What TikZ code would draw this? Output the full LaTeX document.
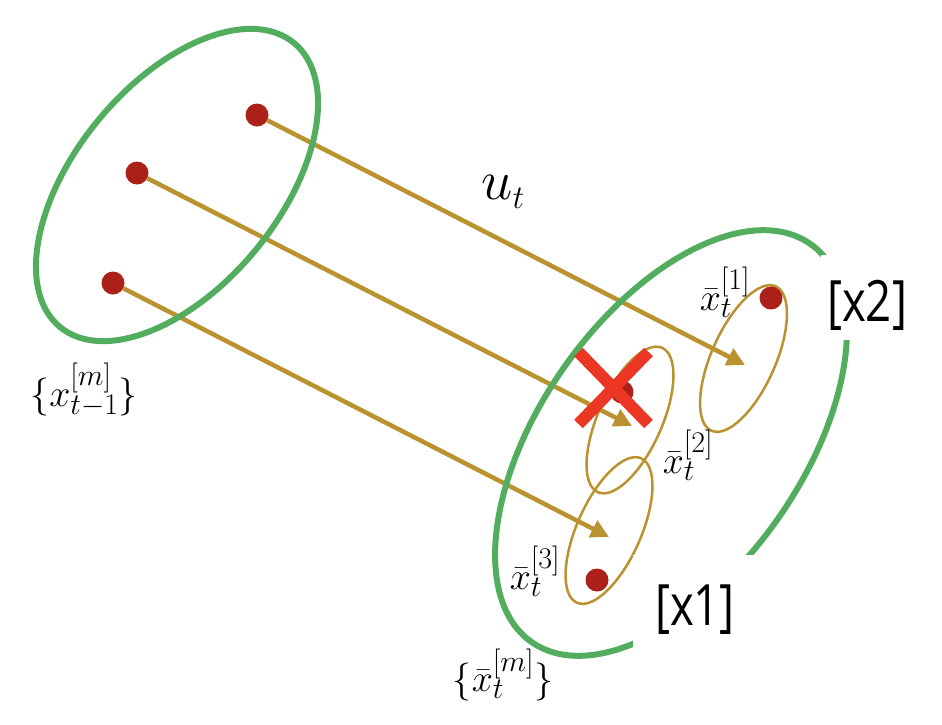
\RequirePackage{fix-cm}
\documentclass[tikz,border=0pt]{standalone}
\usepackage{fontspec}
\usepackage{graphicx}
\usepackage{tikz}
\usetikzlibrary{arrows.meta}
\newfontfamily\tagfont{Open Sans}
\DeclareMathSizes{38}{38}{30}{24}
\DeclareMathSizes{56}{56}{33}{25}
\definecolor{setgreen}{RGB}{82,174,94}
\definecolor{movegold}{RGB}{186,146,48}
\definecolor{dotred}{RGB}{172,32,26}
\definecolor{rejectred}{RGB}{236,54,36}
\newcommand{\xpred}[1]{\bar{x}_t^{[#1]}}
\tikzset{
    setring/.style={draw=setgreen, line width=6pt},
    spread/.style={draw=movegold, line width=2.5pt},
    move/.style={-{Triangle[length=18pt, width=18pt]}, draw=movegold,
                 fill=movegold, line width=4.5pt},
    dot/.style={circle, fill=dotred, inner sep=0pt, minimum size=23pt},
    reject/.style={draw=rejectred, line width=12pt},
    lbl/.style={inner sep=0pt, font=\fontsize{38}{46}\selectfont},
    tag/.style={fill=white, anchor=base, text height=#1, text depth=13pt,
                font=\tagfont\fontsize{57}{60}\selectfont},
}

\begin{document}
\begin{tikzpicture}[x=1pt, y=-1pt]
    \useasboundingbox (0,0) rectangle (942,724);

    % samples before the motion
    \node[dot] (p1) at (257,115) {};
    \node[dot] (p2) at (137,173) {};
    \node[dot] (p3) at (113,283) {};
    \coordinate (t1) at (745,365);
    \coordinate (t2) at (632,426);
    \coordinate (t3) at (609,537);

    \draw[move] (p1) -- (t1);
    \draw[move] (p2) -- (t2);
    \draw[move] (p3) -- (t3);

    % sample sets
    \draw[setring] (177,185) ellipse [x radius=184, y radius=102, rotate=50.5];
    \draw[setring] (671,443) ellipse [x radius=243, y radius=131, rotate=55];

    \draw[spread] (743.5,358.5) ellipse [x radius=79, y radius=32, rotate=66];
    \draw[spread] (630,420)     ellipse [x radius=79, y radius=32, rotate=66];
    \draw[spread] (609,530.5)   ellipse [x radius=79, y radius=32, rotate=66];

    % predicted samples
    \node[dot] (q1) at (771,298) {};
    \node[dot] (q2) at (622,392) {};
    \node[dot] (q3) at (597,580) {};

    \draw[reject] (578.5,352) -- (648.5,424);
    \draw[reject] (578.5,424) -- (648.5,352);

    \node[lbl, font=\fontsize{56}{64}\selectfont] (ut) at (503,192) {$u_t$};
    \node[lbl] (prior) at (84,390)  {$\{x_{t-1}^{[m]}\}$};
    \node[lbl] (post)  at (503,675) {$\{\bar{x}_t^{[m]}\}$};
    \node[lbl] (l1) at (725,292) {$\xpred{1}$};
    \node[lbl] (l2) at (688,455) {$\xpred{2}$};
    \node[lbl] (l3) at (535,571) {$\xpred{3}$};

    \node[tag=48pt, inner sep=22pt] (x1) at (695,625) {\scalebox{0.8}[1]{[x1]}};
    \node[tag=60pt, inner sep=6pt]  (x2) at (867,321) {\scalebox{0.8}[1]{[x2]}};
\end{tikzpicture}
\end{document}
